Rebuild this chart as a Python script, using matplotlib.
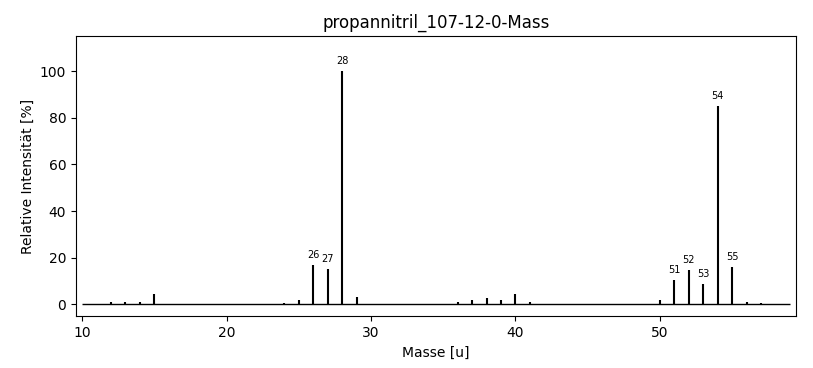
import numpy as np
import matplotlib
matplotlib.use('Agg')
import matplotlib.pyplot as plt

masses = [12, 13, 14, 15, 24, 25, 26, 27, 28, 29, 36, 37, 38, 39, 40, 41,
          50, 51, 52, 53, 54, 55, 56, 57]
intensities = [0.9, 1.0, 1.0, 4.3, 0.8, 2.1, 16.7, 15.0, 100.0, 3.0,
               0.9, 1.7, 2.7, 2.1, 4.3, 0.9,
               2.1, 10.3, 14.6, 8.9, 85.0, 16.0, 1.2, 0.8]

fig = plt.figure(figsize=(8.13, 3.68), dpi=100)
ax = fig.add_axes([0.0935, 0.141, 0.886, 0.761])

ax.vlines(masses, 0, intensities, color='black', linewidth=1.5)
ax.hlines(0, 10, 59, color='black', linewidth=1)

for m, i in zip(masses, intensities):
    if i > 5:
        ax.text(m, i + 2.2, str(m), ha='center', va='bottom', fontsize=7)

ax.set_xlim(9.58, 59.45)
ax.set_ylim(-5, 115)
ax.set_title('propannitril_107-12-0-Mass')
ax.set_xlabel('Masse [u]')
ax.set_ylabel('Relative Intensität [%]')

plt.savefig('out.png', dpi=100)
